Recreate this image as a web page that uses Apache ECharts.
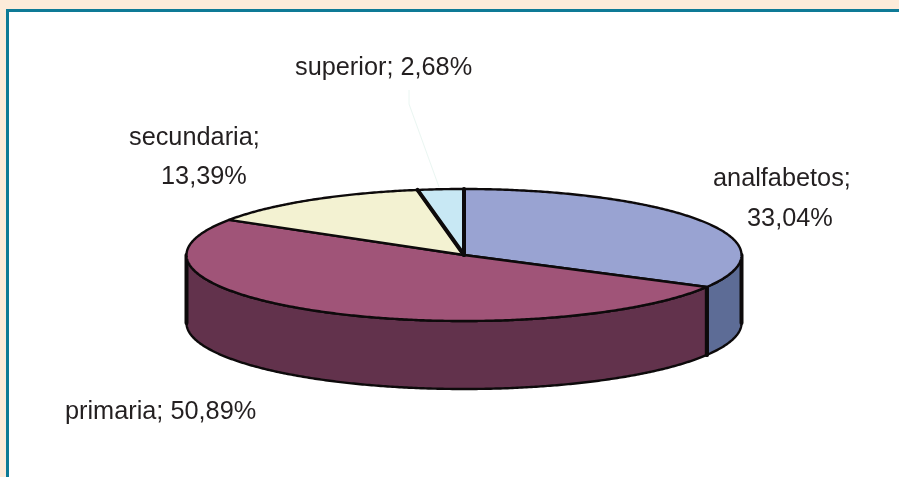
<!DOCTYPE html>
<html>
<head>
<meta charset="utf-8">
<style>
html, body { margin: 0; padding: 0; background: #fdebd9; }
#main { width: 899px; height: 477px; }
</style>
<script src="https://cdn.jsdelivr.net/npm/echarts@6/dist/echarts.min.js"></script>
</head>
<body>
<div id="main"></div>
<script>
var categories = ['analfabetos', 'primaria', 'secundaria', 'superior'];
var shares = [33.04, 50.89, 13.39, 2.68];
var topColors = ['#99a3d2', '#a05478', '#f3f2d2', '#c8e8f4'];
var sideColors = ['#5d6c96', '#62324c', '#c3c2a8', '#a0bac3'];

// where each line of a label goes: left x, middle y
var labelLines = [
	[[713, 179], [747, 219]],
	[[65, 412]],
	[[129, 138], [161, 177]],
	[[295, 68]]
];

// flattened disc
var cx = 464, cy = 255, rx = 277.5, ry = 66, depth = 68;
var ink = '#0d0a0b';

var total = shares.reduce(function(a, b) { return a + b; }, 0);

function sliceAngles(i) {
	var before = 0;
	for (var k = 0; k < i; k++) before += shares[k];
	return [before / total * 360, (before + shares[i]) / total * 360];
}

function rim(deg, dy) {
	var r = deg * Math.PI / 180;
	return [cx + rx * Math.sin(r), cy - ry * Math.cos(r) + (dy || 0)];
}

function arc(from, to, dy) {
	var pts = [];
	for (var a = from; a < to; a += 0.5) pts.push(rim(a, dy));
	pts.push(rim(to, dy));
	return pts;
}

function heavyLine(a, b) {
	return {
		type: 'line',
		shape: { x1: a[0], y1: a[1], x2: b[0], y2: b[1] },
		style: { stroke: ink, lineWidth: 4, lineCap: 'round' }
	};
}

function renderSide(params) {
	var ang = sliceAngles(params.dataIndex);
	// only the front half (90..270 clockwise from the top) can be seen
	var from = Math.max(ang[0], 90), to = Math.min(ang[1], 270);
	if (from >= to) return null;
	var pts = arc(from, to, 0).concat(arc(from, to, depth).reverse());
	return {
		type: 'group',
		children: [{
			type: 'polygon',
			shape: { points: pts },
			style: { fill: sideColors[params.dataIndex], stroke: ink, lineWidth: 2.4, lineJoin: 'round' }
		}, heavyLine(rim(from), rim(from, depth)), heavyLine(rim(to), rim(to, depth))]
	};
}

function renderTop(params) {
	var i = params.dataIndex;
	var ang = sliceAngles(i);
	var children = [{
		type: 'polygon',
		shape: { points: [[cx, cy]].concat(arc(ang[0], ang[1], 0)) },
		style: { fill: topColors[i], stroke: ink, lineWidth: 2.4, lineJoin: 'round' }
	}];
	// the two edges round the small slice are drawn heavier
	if (i === categories.length - 1) {
		children.push(heavyLine([cx, cy], rim(ang[0])));
		children.push(heavyLine([cx, cy], rim(ang[1])));
	}
	var words = [categories[i] + ';', String(shares[i]).replace('.', ',') + '%'];
	var spots = labelLines[i];
	var lines = spots.length === 1 ? [words.join(' ')] : words;
	lines.forEach(function(line, n) {
		children.push({
			type: 'text',
			style: {
				x: spots[n][0],
				y: spots[n][1],
				text: line,
				fill: '#231f20',
				font: '25.3px "Liberation Sans", Arial, sans-serif',
				textVerticalAlign: 'middle'
			}
		});
	});
	return { type: 'group', children: children };
}

var seriesData = shares.map(function(v, i) {
	return { name: categories[i], value: [v] };
});

var myChart = echarts.init(document.getElementById('main'));
myChart.setOption({
	animation: false,
	backgroundColor: '#fdebd9',
	graphic: [{
		type: 'rect',
		z: 0,
		shape: { x: 7.5, y: 10.5, width: 950, height: 520 },
		style: { fill: '#ffffff', stroke: '#0e7a96', lineWidth: 3 }
	}, {
		// faint leader of the "superior" label
		type: 'polyline',
		z: 1,
		shape: { points: [[409, 90], [409, 104], [439, 187]] },
		style: { fill: null, stroke: '#eaf6f2', lineWidth: 1 }
	}],
	series: [
		{ type: 'custom', coordinateSystem: 'none', silent: true, z: 2, renderItem: renderSide, data: seriesData },
		{ type: 'custom', coordinateSystem: 'none', silent: true, z: 3, renderItem: renderTop, data: seriesData }
	]
});
</script>
</body>
</html>
